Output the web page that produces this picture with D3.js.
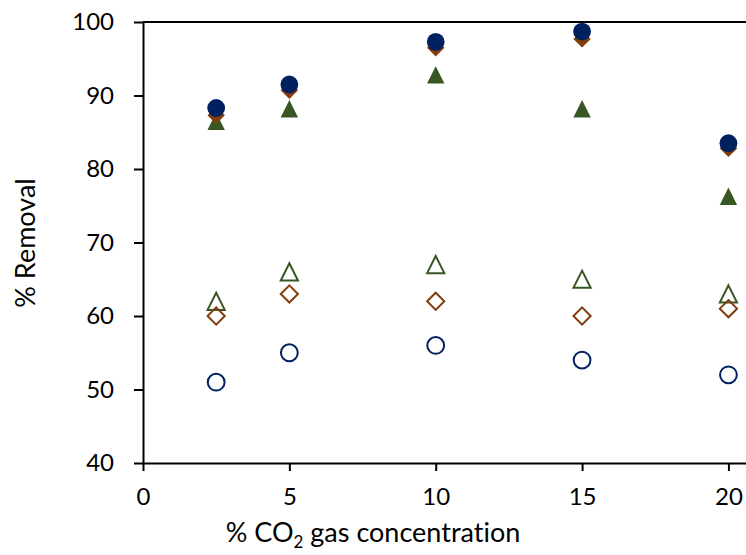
<!DOCTYPE html>
<html>
<head>
<meta charset="utf-8">
<script src="https://cdn.jsdelivr.net/npm/d3@7"></script>
<style>
  html, body { margin: 0; padding: 0; background: #fff; }
  svg { display: block; font-family: Lato, "Open Sans", sans-serif; font-variant-ligatures: none; }
</style>
</head>
<body>
<svg id="chart" width="746" height="555"></svg>
<script>
// CO2 gas concentration (%)
const concentrations = [2.5, 5, 10, 15, 20];

// % removal, filled markers
const circleFilled   = [88.3, 91.5, 97.3, 98.7, 83.5];
const diamondFilled  = [87.3, 90.7, 96.5, 97.7, 82.8];
const triangleFilled = [86.5, 88.2, 92.8, 88.2, 76.3];

// % removal, open markers
const circleOpen   = [51, 55, 56, 54, 52];
const diamondOpen  = [60, 63, 62, 60, 61];
const triangleOpen = [62, 66, 67, 65, 63];

const xTicks = [0, 5, 10, 15, 20];
const yTicks = [40, 50, 60, 70, 80, 90, 100];

const NAVY = "#002060", BROWN = "#843c0c", GREEN = "#385723";

const svg = d3.select("#chart");
const plotLeft = 143, plotTop = 22, plotBottom = 463;

const x = d3.scaleLinear().domain([0, 20.6]).range([plotLeft, 746]);
const y = d3.scaleLinear().domain([40, 100]).range([plotBottom, plotTop]);

// y axis
const yAxis = svg.append("g")
  .attr("transform", `translate(${plotLeft},0)`)
  .call(d3.axisLeft(y).tickValues(yTicks).tickSize(9).tickPadding(20).tickSizeOuter(0));
// x axis
const xAxis = svg.append("g")
  .attr("transform", `translate(0,${plotBottom})`)
  .call(d3.axisBottom(x).tickValues(xTicks).tickSize(8).tickPadding(17).tickSizeOuter(0));

[yAxis, xAxis].forEach(g => {
  g.select(".domain").attr("stroke", "#000").attr("stroke-width", 2);
  g.selectAll(".tick line").attr("stroke", "#000").attr("stroke-width", 2);
  g.selectAll(".tick text").attr("fill", "#000").style("font-size", "24px")
    .style("font-family", "Lato, 'Open Sans', sans-serif");
});

// top border of the plot area
svg.append("line")
  .attr("x1", plotLeft).attr("x2", 746)
  .attr("y1", y(100)).attr("y2", y(100))
  .attr("stroke", "#000").attr("stroke-width", 2);

// axis titles
svg.append("text")
  .attr("transform", `translate(35,243) rotate(-90)`)
  .attr("text-anchor", "middle")
  .style("font-size", "27px")
  .text("% Removal");

const xt = svg.append("text")
  .attr("x", 373).attr("y", 542)
  .attr("text-anchor", "middle")
  .style("font-size", "27px");
xt.append("tspan").text("% CO");
xt.append("tspan").attr("dy", 6).style("font-size", "17px").text("2");
xt.append("tspan").attr("dy", -6).text(" gas concentration");

// marker path builders (centered on the data point)
function circlePath(cx, cy, r) {
  const p = d3.path(); p.arc(cx, cy, r, 0, 2 * Math.PI); p.closePath(); return p.toString();
}
function diamondPath(cx, cy, h) {
  const p = d3.path();
  p.moveTo(cx, cy - h); p.lineTo(cx + h, cy); p.lineTo(cx, cy + h); p.lineTo(cx - h, cy); p.closePath();
  return p.toString();
}
function trianglePath(cx, cy, h) {
  const p = d3.path();
  p.moveTo(cx, cy - h); p.lineTo(cx + h, cy + h); p.lineTo(cx - h, cy + h); p.closePath();
  return p.toString();
}

function drawSeries(values, shape, color, filled) {
  const size = filled ? { circle: 8.9, diamond: 8.7, triangle: 8.7 } : { circle: 8.4, diamond: 8.6, triangle: 8.6 };
  const gen = shape === "circle" ? circlePath : shape === "diamond" ? diamondPath : trianglePath;
  svg.append("g").selectAll("path")
    .data(concentrations.map((c, i) => ({ c, v: values[i] })))
    .join("path")
    .attr("d", d => gen(x(d.c), y(d.v), size[shape]))
    .attr("fill", filled ? color : "none")
    .attr("stroke", filled ? "none" : color)
    .attr("stroke-width", filled ? 0 : 2);
}

// open markers
drawSeries(triangleOpen, "triangle", GREEN, false);
drawSeries(diamondOpen, "diamond", BROWN, false);
drawSeries(circleOpen, "circle", NAVY, false);
// filled markers
drawSeries(triangleFilled, "triangle", GREEN, true);
drawSeries(diamondFilled, "diamond", BROWN, true);
drawSeries(circleFilled, "circle", NAVY, true);
</script>
</body>
</html>
